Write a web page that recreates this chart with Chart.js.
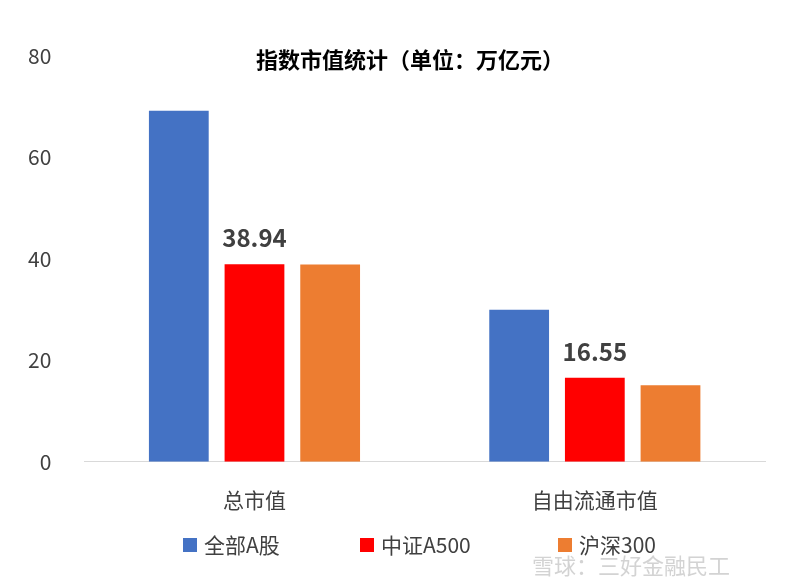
<!DOCTYPE html>
<html><head><meta charset="utf-8">
<script src="https://cdn.jsdelivr.net/npm/chart.js@4/dist/chart.umd.min.js"></script>
<style>body{margin:0;background:#fff}#w{position:relative;width:800px;height:584px}
#wm{position:absolute;left:532px;top:548px;font:22px "Noto Sans CJK SC";color:rgba(200,200,200,0.8)}</style>
</head><body><div id="w"><canvas id="c" width="800" height="584"></canvas><div id="wm">雪球：三好金融民工</div></div>
<script>
const categories=["总市值","自由流通市值"];
const seriesNames=["全部A股","中证A500","沪深300"];
const allA=[69.2,30.0];
const a500=[38.94,16.55];
const hs300=[38.9,15.1];
const yTicks=[0,20,40,60,80];
const colors=["#4472C4","#FF0000","#ED7D31"];
const F='"Noto Sans CJK SC", sans-serif';
const labelPlugin={id:'lbl',afterDatasetsDraw(ch){const ctx=ch.ctx;const m=ch.getDatasetMeta(1);ctx.save();ctx.font='bold 24px '+F;ctx.fillStyle='#404040';ctx.textAlign='center';ctx.textBaseline='bottom';
m.data.forEach((b,i)=>ctx.fillText(a500[i].toFixed(2),b.x,b.y-14));
ctx.font='bold 22px '+F;ctx.fillStyle='#000';ctx.textBaseline='middle';ctx.fillText('指数市值统计（单位：万亿元）',410,60);
const lx=[183,360,558];ctx.font='21px '+F;ctx.textAlign='left';
seriesNames.forEach((n,i)=>{ctx.fillStyle=colors[i];ctx.fillRect(lx[i],538,14,14);ctx.fillStyle='#404040';ctx.fillText(n,lx[i]+21,545);});
ctx.restore();}};
new Chart(document.getElementById('c'),{type:'bar',
data:{labels:categories,datasets:[allA,a500,hs300].map((d,i)=>({label:seriesNames[i],data:d,backgroundColor:colors[i],categoryPercentage:0.667,barPercentage:0.79}))},
options:{responsive:false,animation:false,
layout:{padding:{left:3,right:35,top:56,bottom:53}},
plugins:{title:{display:false},legend:{display:false},tooltip:{enabled:false}},
scales:{x:{grid:{display:false},border:{color:'#d9d9d9'},ticks:{font:{family:F,size:21},color:'#404040',padding:18}},
y:{min:0,max:80,afterBuildTicks:a=>{a.ticks=yTicks.map(v=>({value:v}))},grid:{display:false},border:{display:false},ticks:{font:{family:F,size:21},color:'#404040',padding:25}}}},
plugins:[labelPlugin]});
</script></body></html>
